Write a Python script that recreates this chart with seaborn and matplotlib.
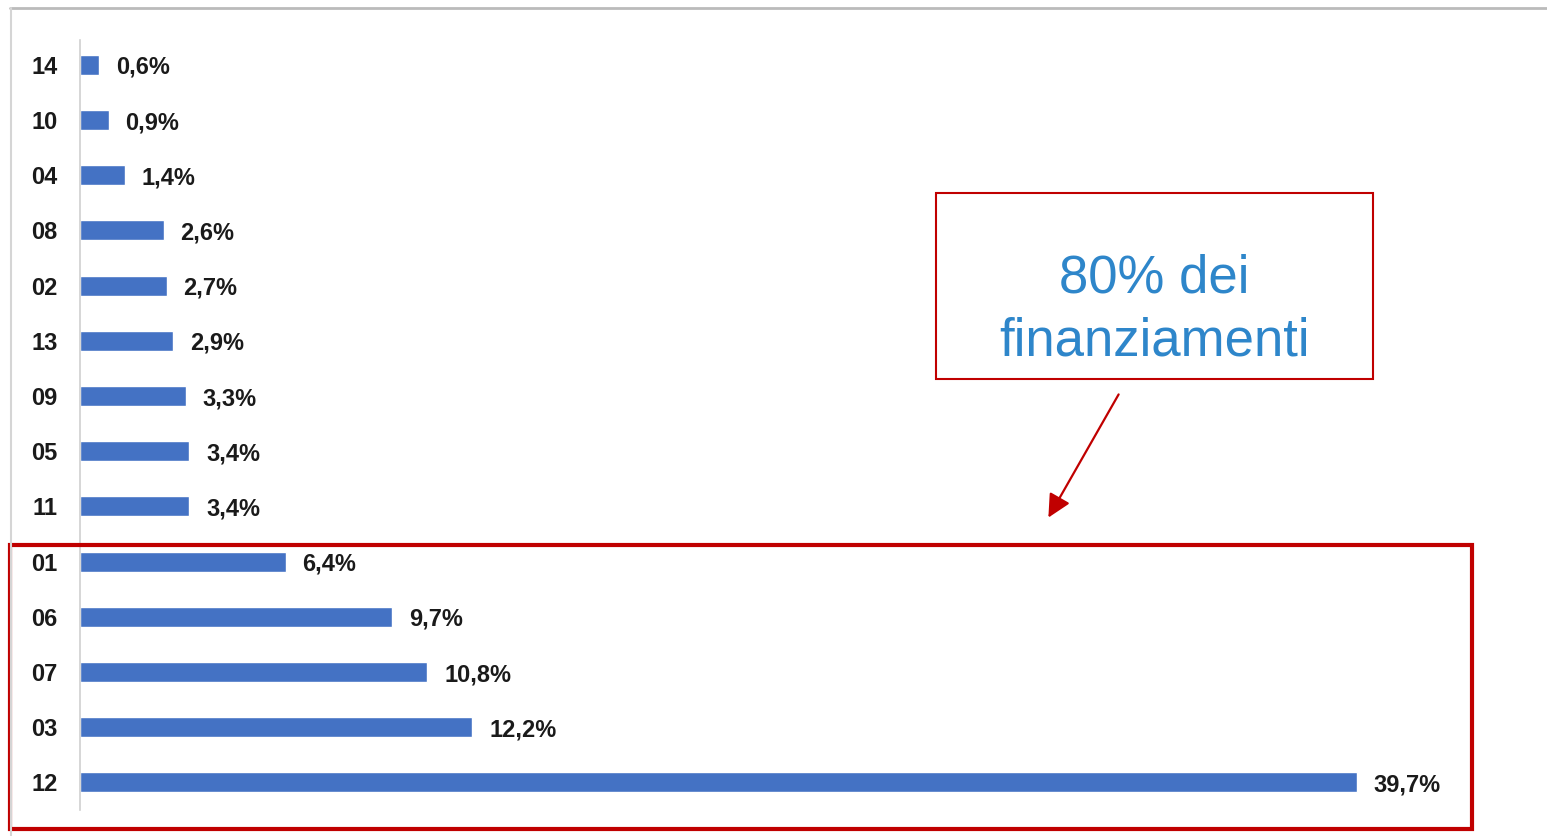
import matplotlib
matplotlib.use("Agg")
import matplotlib.pyplot as plt
import seaborn as sns
import pandas as pd
from matplotlib.patches import Rectangle, FancyArrowPatch

# Data (share of funding by area)
codes = ["14", "10", "04", "08", "02", "13", "09", "05", "11", "01", "06", "07", "03", "12"]
shares = [0.6, 0.9, 1.4, 2.6, 2.7, 2.9, 3.3, 3.4, 3.4, 6.4, 9.7, 10.8, 12.2, 39.7]
labels = ["0,6%", "0,9%", "1,4%", "2,6%", "2,7%", "2,9%", "3,3%", "3,4%", "3,4%",
          "6,4%", "9,7%", "10,8%", "12,2%", "39,7%"]
note_text = "80% dei\nfinanziamenti"

df = pd.DataFrame({"code": codes, "share": shares})

W, H = 1547, 836
sns.set_theme(style="white")
plt.rcParams["font.family"] = ["Liberation Sans", "DejaVu Sans"]

fig = plt.figure(figsize=(W / 100, H / 100), dpi=100)


def px(x, y):
    # pixel coords (top-left origin) -> figure fraction
    return x / W, 1 - y / H


# axes: zero line at x=80px, 45% -> ~1528px
left, top = px(80, 40)
_, bottom = px(0, 810)
ax = fig.add_axes([left, bottom, (45 * 32.17) / W, top - bottom])

sns.barplot(data=df, x="share", y="code", order=codes, orient="h",
            color="#4472C4", width=0.36, saturation=1, ax=ax)
texts = ax.bar_label(ax.containers[0], labels=labels, padding=12,
                     fontsize=17, fontweight="bold", color="#1a1a1a")
for t in texts:
    t.set_va("center_baseline")

ax.set_xlim(0, 45)
ax.set_ylim(13.5, -0.45)
ax.set_xlabel("")
ax.set_ylabel("")
ax.set_xticks([])
for s in ["top", "right", "bottom"]:
    ax.spines[s].set_visible(False)
ax.spines["left"].set_color("#d0d0d0")
ax.spines["left"].set_linewidth(1.2)
ax.tick_params(axis="y", length=0, pad=16, labelsize=17, labelcolor="#1a1a1a")
for t in ax.get_yticklabels():
    t.set_fontweight("bold")

# outer gray frame (top and left)
fig.add_artist(plt.Line2D([px(10, 8)[0], 1], [px(10, 8)[1]] * 2,
                          transform=fig.transFigure, color="#bbbbbb", lw=2))
fig.add_artist(plt.Line2D([px(11, 0)[0]] * 2, [px(0, 8)[1], 0],
                          transform=fig.transFigure, color="#d5d5d5", lw=1.5))

# red box around the top five areas
x0, y0 = px(10, 829)
x1, y1 = px(1472, 545)
fig.add_artist(Rectangle((x0, y0), x1 - x0, y1 - y0, transform=fig.transFigure,
                         fill=False, edgecolor="#C00000", lw=3))

# note box
nx0, ny0 = px(936, 379)
nx1, ny1 = px(1373, 193)
fig.add_artist(Rectangle((nx0, ny0), nx1 - nx0, ny1 - ny0, transform=fig.transFigure,
                         fill=False, edgecolor="#C00000", lw=1.5))
tx, ty = px(1154, 310)
fig.text(tx, ty, note_text, ha="center", va="center", fontsize=38,
         color="#2E86CA", linespacing=1.35, family=["Liberation Sans", "DejaVu Sans"])

# arrow
fig.add_artist(FancyArrowPatch(px(1120, 392), px(1047, 520), transform=fig.transFigure,
                               arrowstyle="-|>,head_length=7,head_width=3.5",
                               color="#C00000", lw=1.6, mutation_scale=2))

fig.savefig("out.png", dpi=100, facecolor="white")
